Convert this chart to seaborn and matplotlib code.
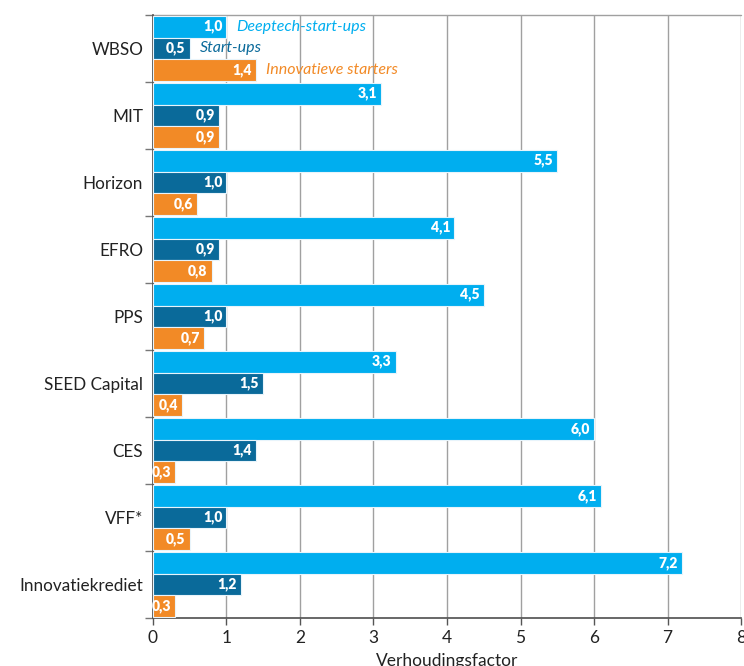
import pandas as pd
import seaborn as sns
import matplotlib.pyplot as plt
from matplotlib.ticker import FixedLocator

categories = ["WBSO", "MIT", "Horizon", "EFRO", "PPS", "SEED Capital", "CES", "VFF*", "Innovatiekrediet"]
series = ["Deeptech-start-ups", "Start-ups", "Innovatieve starters"]
deeptech = [1.0, 3.1, 5.5, 4.1, 4.5, 3.3, 6.0, 6.1, 7.2]
startups = [0.5, 0.9, 1.0, 0.9, 1.0, 1.5, 1.4, 1.0, 1.2]
innovatief = [1.4, 0.9, 0.6, 0.8, 0.7, 0.4, 0.3, 0.5, 0.3]
x_ticks = [0, 1, 2, 3, 4, 5, 6, 7, 8]
colors = ["#00aeef", "#0a6a9a", "#f28a26"]

rows = []
for name, vals in zip(series, [deeptech, startups, innovatief]):
    for cat, v in zip(categories, vals):
        rows.append({"regeling": cat, "reeks": name, "waarde": v})
df = pd.DataFrame(rows)

sns.set_theme(style="white")
plt.rcParams['font.family'] = ['Lato', 'DejaVu Sans']

fig, ax = plt.subplots(figsize=(7.44, 6.66), dpi=100)
fig.subplots_adjust(left=0.2056, right=0.996, top=0.9775, bottom=0.072)

sns.barplot(data=df, x="waarde", y="regeling", hue="reeks", palette=colors,
            orient="h", width=0.98, gap=0, saturation=1,
            edgecolor="#e8f4fb", linewidth=0.8,
            legend=False, ax=ax, zorder=3)

# value labels inside the bar ends
for cont in ax.containers:
    for b in cont:
        w = b.get_width()
        ax.annotate(f"{w:.1f}".replace(".", ","), (w, b.get_y() + b.get_height() / 2),
                    xytext=(-3, 0), textcoords="offset points", ha="right", va="center",
                    color="white", fontweight="heavy", fontsize=10, zorder=4)

# legend texts next to the WBSO bars
for cont, name, col in zip(ax.containers, series, colors):
    b = cont[0]
    ax.annotate(name, (b.get_width(), b.get_y() + b.get_height() / 2),
                xytext=(7, 0), textcoords="offset points", va="center",
                color=col, fontstyle="italic", fontsize=11.5)

ax.set_xlim(0, 8)
ax.set_ylim(len(categories) - 0.5, -0.5)
ax.set_xticks(x_ticks)
ax.xaxis.grid(True, color="#a0a0a0", linewidth=1, zorder=0)
ax.set_axisbelow(True)

ax.yaxis.set_minor_locator(FixedLocator([i - 0.5 for i in range(len(categories) + 1)]))
ax.tick_params(axis="y", which="major", length=0, labelsize=12.3, pad=7, labelcolor="#222222")
ax.tick_params(axis="y", which="minor", length=6, width=1, color="#777777", left=True)
ax.tick_params(axis="x", length=5, width=1, color="#555555", labelsize=12.5, labelcolor="#222222", bottom=True)

for side in ["top", "right"]:
    ax.spines[side].set_visible(False)
ax.spines["left"].set_color("#555555")
ax.spines["bottom"].set_color("#555555")
ax.axhline(-0.5, color="#a0a0a0", linewidth=1, zorder=1, clip_on=False)

ax.set_ylabel("")
ax.set_xlabel("Verhoudingsfactor", fontsize=12.5, color="#222222", labelpad=5)

plt.savefig("out.png", dpi=100)
